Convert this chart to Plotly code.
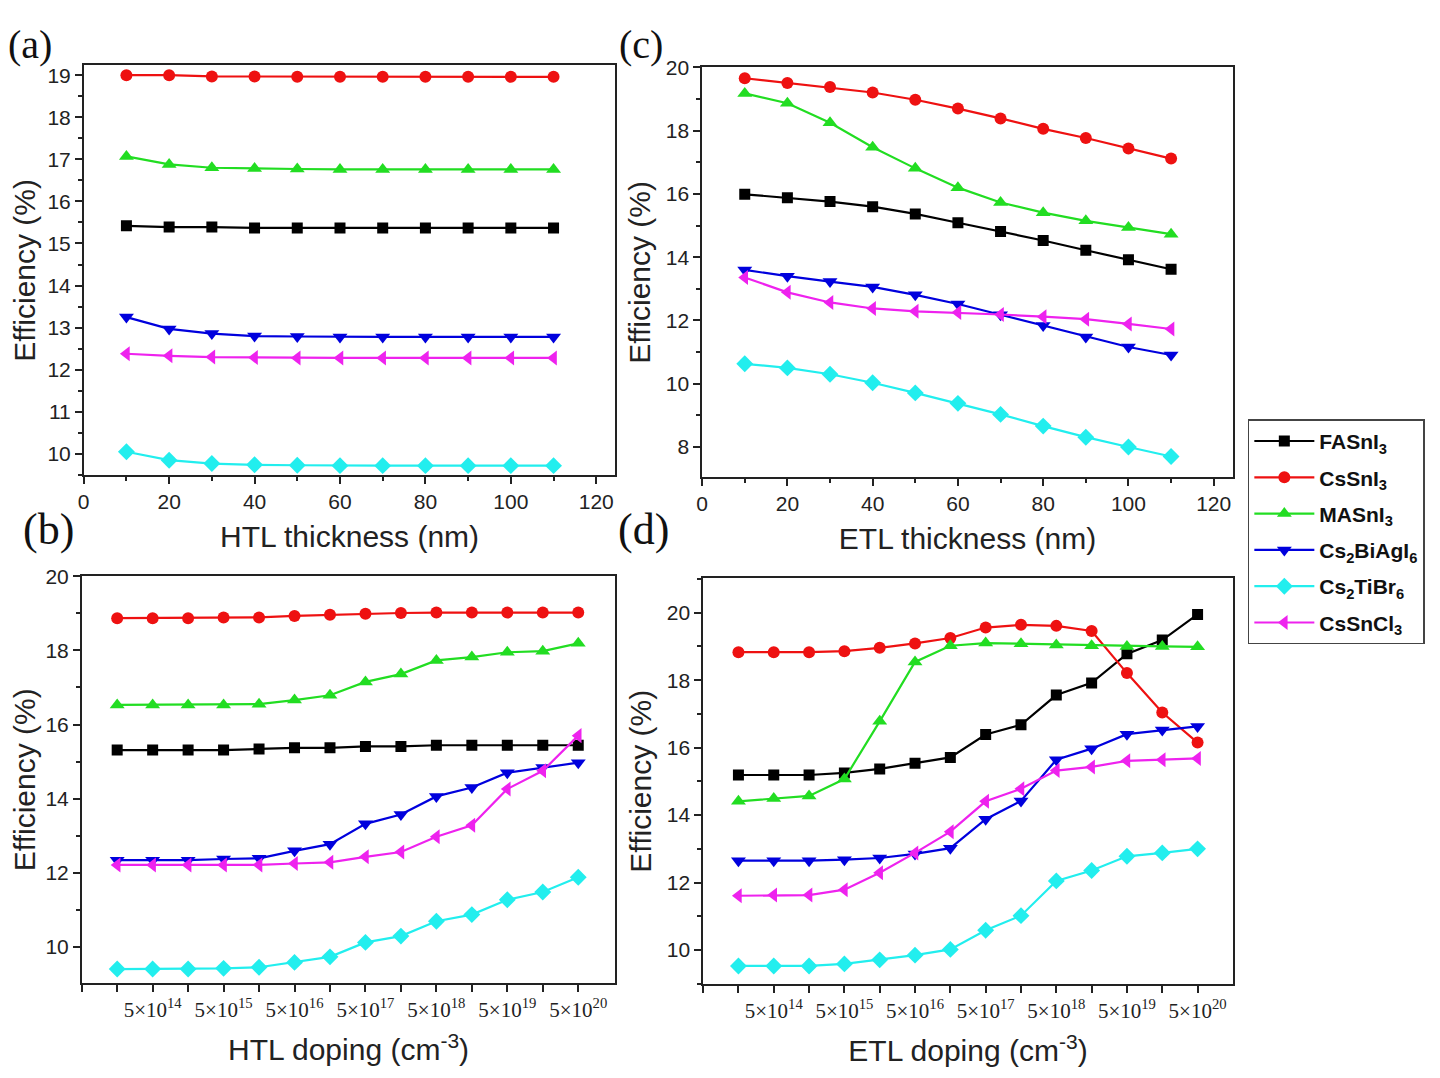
import plotly.graph_objects as go

W, H = 1440, 1078

names = ["FASnI<sub>3</sub>", "CsSnI<sub>3</sub>", "MASnI<sub>3</sub>",
         "Cs<sub>2</sub>BiAgI<sub>6</sub>", "Cs<sub>2</sub>TiBr<sub>6</sub>", "CsSnCl<sub>3</sub>"]
colors = ["#000000", "#ee1111", "#22dd22", "#0000dd", "#22eeee", "#ee22ee"]
symbols = ["square", "circle", "triangle-up", "triangle-down", "diamond", "triangle-left"]

thickness = [10, 20, 30, 40, 50, 60, 70, 80, 90, 100, 110]
doping_idx = list(range(14))
doping_label_idx = [1, 3, 5, 7, 9, 11, 13]
doping_labels = ["5×10<sup>14</sup>", "5×10<sup>15</sup>", "5×10<sup>16</sup>",
                 "5×10<sup>17</sup>", "5×10<sup>18</sup>", "5×10<sup>19</sup>", "5×10<sup>20</sup>"]
doping_minor_idx = [-1, 0, 2, 4, 6, 8, 10, 12]

# (a) HTL thickness
a_FASnI3 = [15.42, 15.39, 15.39, 15.37, 15.37, 15.37, 15.37, 15.37, 15.37, 15.37, 15.37]
a_CsSnI3 = [19.0, 19.0, 18.97, 18.97, 18.96, 18.96, 18.96, 18.96, 18.96, 18.96, 18.96]
a_MASnI3 = [17.07, 16.88, 16.8, 16.78, 16.77, 16.76, 16.76, 16.76, 16.76, 16.76, 16.76]
a_Cs2BiAgI6 = [13.25, 12.97, 12.86, 12.8, 12.79, 12.78, 12.78, 12.78, 12.78, 12.78, 12.78]
a_Cs2TiBr6 = [10.05, 9.85, 9.77, 9.74, 9.73, 9.72, 9.72, 9.72, 9.72, 9.72, 9.72]
a_CsSnCl3 = [12.38, 12.33, 12.3, 12.29, 12.28, 12.28, 12.28, 12.28, 12.28, 12.28, 12.28]

# (c) ETL thickness
c_FASnI3 = [15.99, 15.88, 15.76, 15.60, 15.37, 15.09, 14.81, 14.53, 14.22, 13.92, 13.62]
c_CsSnI3 = [19.66, 19.51, 19.38, 19.21, 18.98, 18.70, 18.39, 18.06, 17.77, 17.44, 17.12]
c_MASnI3 = [19.18, 18.87, 18.25, 17.48, 16.81, 16.20, 15.73, 15.41, 15.15, 14.94, 14.73]
c_Cs2BiAgI6 = [13.60, 13.40, 13.23, 13.06, 12.81, 12.52, 12.18, 11.84, 11.48, 11.16, 10.91]
c_Cs2TiBr6 = [10.63, 10.50, 10.30, 10.03, 9.71, 9.38, 9.03, 8.66, 8.31, 8.00, 7.70]
c_CsSnCl3 = [13.36, 12.89, 12.57, 12.38, 12.29, 12.25, 12.19, 12.12, 12.04, 11.89, 11.73]

# (b) HTL doping
b_FASnI3 = [15.31, 15.31, 15.31, 15.31, 15.34, 15.37, 15.37, 15.41, 15.41, 15.44, 15.44, 15.44, 15.44, 15.44]
b_CsSnI3 = [18.87, 18.87, 18.87, 18.89, 18.89, 18.93, 18.96, 18.99, 19.01, 19.02, 19.02, 19.02, 19.02, 19.02]
b_MASnI3 = [16.53, 16.53, 16.53, 16.53, 16.55, 16.66, 16.79, 17.15, 17.36, 17.73, 17.82, 17.95, 17.98, 18.19]
b_Cs2BiAgI6 = [12.34, 12.34, 12.34, 12.37, 12.39, 12.59, 12.77, 13.32, 13.57, 14.06, 14.30, 14.70, 14.84, 14.97]
b_Cs2TiBr6 = [9.40, 9.40, 9.40, 9.42, 9.45, 9.58, 9.73, 10.12, 10.29, 10.69, 10.87, 11.27, 11.48, 11.88]
b_CsSnCl3 = [12.21, 12.21, 12.21, 12.21, 12.21, 12.25, 12.28, 12.43, 12.56, 12.97, 13.28, 14.26, 14.75, 15.70]

# (d) ETL doping
d_FASnI3 = [15.19, 15.19, 15.19, 15.25, 15.37, 15.54, 15.71, 16.39, 16.68, 17.56, 17.92, 18.78, 19.19, 19.95]
d_CsSnI3 = [18.83, 18.83, 18.83, 18.86, 18.96, 19.09, 19.25, 19.56, 19.64, 19.61, 19.46, 18.21, 17.04, 16.15]
d_MASnI3 = [14.41, 14.49, 14.57, 15.07, 16.78, 18.54, 19.02, 19.10, 19.08, 19.04, 19.02, 19.00, 19.00, 18.99]
d_Cs2BiAgI6 = [12.65, 12.65, 12.65, 12.68, 12.73, 12.85, 13.02, 13.88, 14.42, 15.64, 15.97, 16.40, 16.52, 16.63]
d_Cs2TiBr6 = [9.53, 9.53, 9.53, 9.59, 9.71, 9.85, 10.02, 10.59, 11.02, 12.05, 12.36, 12.78, 12.88, 13.00]
d_CsSnCl3 = [11.61, 11.63, 11.63, 11.79, 12.29, 12.88, 13.51, 14.41, 14.78, 15.32, 15.43, 15.61, 15.64, 15.68]

panel_labels = ["(a)", "(b)", "(c)", "(d)"]

panels = [
    ("x", "y", thickness, [a_FASnI3, a_CsSnI3, a_MASnI3, a_Cs2BiAgI6, a_Cs2TiBr6, a_CsSnCl3]),
    ("x2", "y2", thickness, [c_FASnI3, c_CsSnI3, c_MASnI3, c_Cs2BiAgI6, c_Cs2TiBr6, c_CsSnCl3]),
    ("x3", "y3", doping_idx, [b_FASnI3, b_CsSnI3, b_MASnI3, b_Cs2BiAgI6, b_Cs2TiBr6, b_CsSnCl3]),
    ("x4", "y4", doping_idx, [d_FASnI3, d_CsSnI3, d_MASnI3, d_Cs2BiAgI6, d_Cs2TiBr6, d_CsSnCl3]),
]

fig = go.Figure()
sizes = [11, 12, 13, 13, 13, 13]
for pi, (xa, ya, xs, series) in enumerate(panels):
    for si, ys in enumerate(series):
        fig.add_trace(go.Scatter(
            x=xs, y=ys, xaxis=xa, yaxis=ya, mode="lines+markers",
            name=names[si], legendgroup=names[si], showlegend=(pi == 0),
            line=dict(color=colors[si], width=2.2),
            marker=dict(symbol=symbols[si], size=sizes[si], color=colors[si]),
        ))

def fx(p):
    # screen x (px) -> paper fraction (compensating page offset)
    return (p - 11) / W

def fy(p):
    # screen y (px) -> paper fraction (empirical page offset correction)
    off = 8 + 10 - 10 * (p - 64) / 918
    return 1 - (p - off) / H

def px_dom_x(l, r):
    return [fx(l), fx(r)]

def px_dom_y(t, b):
    return [fy(b), fy(t)]

tickfont = dict(family="Liberation Sans, Arial, sans-serif", size=21, color="#222")
titlefont = dict(family="Liberation Sans, Arial, sans-serif", size=30, color="#222")
serif_tick = dict(family="Liberation Serif, Times New Roman, serif", size=21, color="#222")

common = dict(showline=True, linecolor="#222", linewidth=1.5, mirror=True, ticks="outside",
              tickcolor="#222", tickwidth=1.5, ticklen=7, showgrid=False, zeroline=False)
minor_x = dict(dtick=10, ticks="outside", ticklen=4, tickcolor="#222")
minor_dop = dict(tickmode="array", tickvals=doping_minor_idx, ticks="outside", ticklen=7,
                 tickwidth=1.5, tickcolor="#222", showgrid=False)

layout = dict(
    width=W, height=H, margin=dict(l=0, r=0, t=0, b=0),
    paper_bgcolor="white", plot_bgcolor="white",
    xaxis=dict(domain=px_dom_x(81, 615), range=[0, 124.5], tickvals=[0, 20, 40, 60, 80, 100, 120],
               minor=minor_x, tickfont=tickfont,
               title=dict(text="HTL thickness (nm)", font=titlefont, standoff=14),
               anchor="y", **common),
    yaxis=dict(domain=px_dom_y(64, 474), range=[9.49, 19.23], dtick=1,
               minor=dict(dtick=0.5, ticks="outside", ticklen=4, tickcolor="#222"),
               tickfont=tickfont, title=dict(text="Efficiency (%)", font=titlefont, standoff=8),
               anchor="x", **common),
    xaxis2=dict(domain=px_dom_x(702, 1235), range=[0, 124.5], tickvals=[0, 20, 40, 60, 80, 100, 120],
                minor=minor_x, tickfont=tickfont,
                title=dict(text="ETL thickness (nm)", font=titlefont, standoff=14),
                anchor="y2", **common),
    yaxis2=dict(domain=px_dom_y(66, 476), range=[7.04, 20], dtick=2,
                minor=dict(dtick=1, ticks="outside", ticklen=4, tickcolor="#222"),
                tickfont=tickfont, title=dict(text="Efficiency (%)", font=titlefont, standoff=6),
                anchor="x2", **common),
    xaxis3=dict(domain=px_dom_x(79, 615), range=[-1, 14.05], tickvals=doping_label_idx,
                ticktext=doping_labels, tickangle=0, minor=minor_dop,
                tickfont=serif_tick,
                title=dict(text="HTL doping (cm<sup>-3</sup>)", font=titlefont, standoff=18),
                anchor="y3", **common),
    yaxis3=dict(domain=px_dom_y(575, 982), range=[9.02, 20], dtick=2,
                minor=dict(dtick=1, ticks="outside", ticklen=4, tickcolor="#222"),
                tickfont=tickfont, title=dict(text="Efficiency (%)", font=titlefont, standoff=6),
                anchor="x3", **common),
    xaxis4=dict(domain=px_dom_x(703, 1235), range=[-1, 14], tickvals=doping_label_idx,
                ticktext=doping_labels, tickangle=0, minor=minor_dop,
                tickfont=serif_tick,
                title=dict(text="ETL doping (cm<sup>-3</sup>)", font=titlefont, standoff=18),
                anchor="y4", **common),
    yaxis4=dict(domain=px_dom_y(577, 983), range=[8.99, 21.02], dtick=2,
                minor=dict(dtick=1, ticks="outside", ticklen=4, tickcolor="#222"),
                tickfont=tickfont, title=dict(text="Efficiency (%)", font=titlefont, standoff=6),
                anchor="x4", **common),
    legend=dict(x=fx(1250), y=fy(418), xanchor="left", yanchor="top",
                bordercolor="#444", borderwidth=1.5, bgcolor="white",
                font=dict(family="Liberation Sans, Arial, sans-serif", size=21, color="#111", weight="bold"),
                tracegroupgap=6, itemwidth=60),
    showlegend=True,
)
fig.update_layout(**layout)

# top labels: anchored to the top of the page area so they are not clipped
fig.add_annotation(text=panel_labels[0], x=fx(27), y=1.0, xref="paper", yref="paper",
                   showarrow=False, xanchor="center", yanchor="top",
                   font=dict(family="Liberation Serif, Times New Roman, serif", size=40, color="#111"))
fig.add_annotation(text=panel_labels[2], x=fx(641), y=1.0, xref="paper", yref="paper",
                   showarrow=False, xanchor="center", yanchor="top",
                   font=dict(family="Liberation Serif, Times New Roman, serif", size=40, color="#111"))
serif_big = dict(family="Liberation Serif, Times New Roman, serif", size=44, color="#111")
for txt, cx, cy in [(panel_labels[1], 46, 528), (panel_labels[3], 643, 528)]:
    fig.add_annotation(text=txt, x=fx(cx), y=fy(cy), xref="paper", yref="paper",
                       showarrow=False, font=serif_big, xanchor="center", yanchor="middle")

fig.write_html("out.html")
